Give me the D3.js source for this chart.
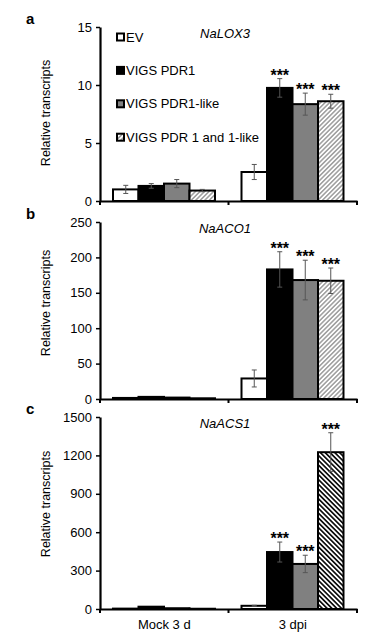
<!DOCTYPE html>
<html>
<head>
<meta charset="utf-8">
<script src="https://cdn.jsdelivr.net/npm/d3@7"></script>
<style>
  body { margin: 0; background: #fff; }
  text { font-family: "Liberation Sans", Arial, sans-serif; }
</style>
</head>
<body>
<svg id="chart" width="375" height="634"></svg>
<script>
// groups and series
const groups = ["Mock 3 d", "3 dpi"];
const seriesNames = ["EV", "VIGS PDR1", "VIGS PDR1-like", "VIGS PDR 1 and 1-like"];

// NaLOX3
const lox3Mock = [1.0, 1.3, 1.5, 0.9];
const lox3Dpi = [2.5, 9.75, 8.35, 8.6];
const lox3MockErr = [0.35, 0.2, 0.35, 0.1];
const lox3DpiErr = [0.65, 0.8, 0.95, 0.6];
const lox3Ticks = [0, 5, 10, 15];

// NaACO1
const aco1Mock = [1.5, 3, 2, 1];
const aco1Dpi = [29, 183, 168, 167];
const aco1MockErr = [0, 0, 0, 0];
const aco1DpiErr = [12, 25, 28, 18];
const aco1Ticks = [0, 50, 100, 150, 200, 250];

// NaACS1
const acs1Mock = [3, 18, 6, 2];
const acs1Dpi = [25, 445, 352, 1225];
const acs1MockErr = [0, 0, 0, 0];
const acs1DpiErr = [4, 78, 68, 152];
const acs1Ticks = [0, 300, 600, 900, 1200, 1500];

// significance marks per group
const lox3Stars = [["", "", "", ""], ["", "***", "***", "***"]];
const aco1Stars = [["", "", "", ""], ["", "***", "***", "***"]];
const acs1Stars = [["", "", "", ""], ["", "***", "***", "***"]];

const svg = d3.select("#chart");
const defs = svg.append("defs");

// diagonal hatch fills
function hatch(id, angle, color, sw, gap) {
  const p = defs.append("pattern")
    .attr("id", id)
    .attr("patternUnits", "userSpaceOnUse")
    .attr("width", gap)
    .attr("height", gap)
    .attr("patternTransform", `rotate(${angle})`);
  p.append("rect").attr("width", gap).attr("height", gap).attr("fill", "#fff");
  p.append("line")
    .attr("x1", gap / 2).attr("x2", gap / 2)
    .attr("y1", 0).attr("y2", gap)
    .attr("stroke", color)
    .attr("stroke-width", sw);
}
hatch("hatchLight", 45, "#8c8c8c", 1.3, 3.2);
hatch("hatchDark", -45, "#000", 1.6, 3.4);

const panels = [
  { letter: "a", title: "NaLOX3", mean: [lox3Mock, lox3Dpi], err: [lox3MockErr, lox3DpiErr],
    stars: lox3Stars, ticks: lox3Ticks, top: 27, bottom: 201, labelY: 113, hatch: "hatchLight", legend: true },
  { letter: "b", title: "NaACO1", mean: [aco1Mock, aco1Dpi], err: [aco1MockErr, aco1DpiErr],
    stars: aco1Stars, ticks: aco1Ticks, top: 222, bottom: 399, labelY: 303, hatch: "hatchLight" },
  { letter: "c", title: "NaACS1", mean: [acs1Mock, acs1Dpi], err: [acs1MockErr, acs1DpiErr],
    stars: acs1Stars, ticks: acs1Ticks, top: 417, bottom: 609, labelY: 504, hatch: "hatchDark", xLabels: true }
];

// Scales
const x0 = d3.scaleBand().domain(groups).range([100, 357]);
const x1 = d3.scaleBand().domain(seriesNames).range([13, 115]);

panels.forEach(p => {
  const fills = ["#fff", "#000", "#808080", `url(#${p.hatch})`];
  const y = d3.scaleLinear()
    .domain([0, d3.max(p.ticks)])
    .range([p.bottom, p.top]);

  const g = svg.append("g");

  const rows = [];
  groups.forEach((grp, gi) => {
    seriesNames.forEach((s, si) => {
      rows.push({ grp, s, si, v: p.mean[gi][si], e: p.err[gi][si], star: p.stars[gi][si] });
    });
  });

  // bars
  g.selectAll(".bar")
    .data(rows)
    .enter()
    .append("rect")
    .attr("x", d => x0(d.grp) + x1(d.s))
    .attr("y", d => y(d.v))
    .attr("width", x1.bandwidth())
    .attr("height", d => y(0) - y(d.v))
    .attr("fill", d => fills[d.si])
    .attr("stroke", "#000")
    .attr("stroke-width", 2);

  // error bars
  const eb = g.selectAll(".err")
    .data(rows.filter(d => d.e > 0))
    .enter()
    .append("g")
    .attr("stroke", "#555")
    .attr("stroke-width", 1);
  const cx = d => x0(d.grp) + x1(d.s) + x1.bandwidth() / 2;
  eb.append("line")
    .attr("x1", cx).attr("x2", cx)
    .attr("y1", d => y(d.v - d.e)).attr("y2", d => y(d.v + d.e));
  eb.append("line")
    .attr("x1", d => cx(d) - 2.5).attr("x2", d => cx(d) + 2.5)
    .attr("y1", d => y(d.v + d.e)).attr("y2", d => y(d.v + d.e));
  eb.append("line")
    .attr("x1", d => cx(d) - 2.5).attr("x2", d => cx(d) + 2.5)
    .attr("y1", d => y(d.v - d.e)).attr("y2", d => y(d.v - d.e));

  // stars
  g.selectAll(".star")
    .data(rows.filter(d => d.star))
    .enter()
    .append("text")
    .attr("x", cx)
    .attr("y", d => y(d.v + d.e) + 2)
    .attr("text-anchor", "middle")
    .attr("font-size", 16)
    .attr("font-weight", "bold")
    .text(d => d.star);

  // y axis
  const ya = g.append("g")
    .attr("transform", "translate(100,0)")
    .call(d3.axisLeft(y).tickValues(p.ticks).tickSize(4).tickSizeOuter(0).tickPadding(4)
      .tickFormat(d3.format("d")));
  ya.select(".domain").attr("stroke-width", 2.2);
  ya.selectAll(".tick line").attr("stroke-width", 1.5);
  ya.selectAll("text").attr("font-size", 13).attr("font-family", null).attr("fill", "#000");

  // x axis
  const xa = g.append("g")
    .attr("transform", `translate(0,${p.bottom})`)
    .call(d3.axisBottom(x0).tickSize(0).tickSizeOuter(0).tickPadding(11)
      .tickFormat(p.xLabels ? d => d : ""));
  xa.select(".domain").attr("stroke-width", 2.2);
  xa.selectAll("text").attr("font-size", 13).attr("font-family", null).attr("fill", "#000");
  xa.selectAll(".edge")
    .data(groups.map(d => x0(d)).concat([x0.range()[1]]))
    .enter()
    .append("line")
    .attr("x1", d => d).attr("x2", d => d)
    .attr("y1", 0).attr("y2", 4)
    .attr("stroke", "#000")
    .attr("stroke-width", 2);

  // Y label
  g.append("text")
    .attr("transform", `translate(50,${p.labelY}) rotate(-90)`)
    .attr("text-anchor", "middle")
    .attr("font-size", 12.5)
    .text("Relative transcripts");

  // panel letter
  g.append("text")
    .attr("x", 26)
    .attr("y", p.top - 3)
    .attr("font-size", 15)
    .attr("font-weight", "bold")
    .text(p.letter);

  // gene name
  g.append("text")
    .attr("x", 225)
    .attr("y", p.top + 11)
    .attr("text-anchor", "middle")
    .attr("font-size", 13)
    .attr("font-style", "italic")
    .text(p.title);

  // legend
  if (p.legend) {
    const lg = g.selectAll(".leg")
      .data(seriesNames)
      .enter()
      .append("g")
      .attr("transform", (d, i) => `translate(117,${37 + i * 33.4})`);
    lg.append("rect")
      .attr("x", 0).attr("y", -3.5)
      .attr("width", 7).attr("height", 7)
      .attr("fill", (d, i) => fills[i])
      .attr("stroke", "#000")
      .attr("stroke-width", 2);
    lg.append("text")
      .attr("x", 9)
      .attr("y", 4.6)
      .attr("font-size", 13)
      .text(d => d);
  }
});
</script>
</body>
</html>
